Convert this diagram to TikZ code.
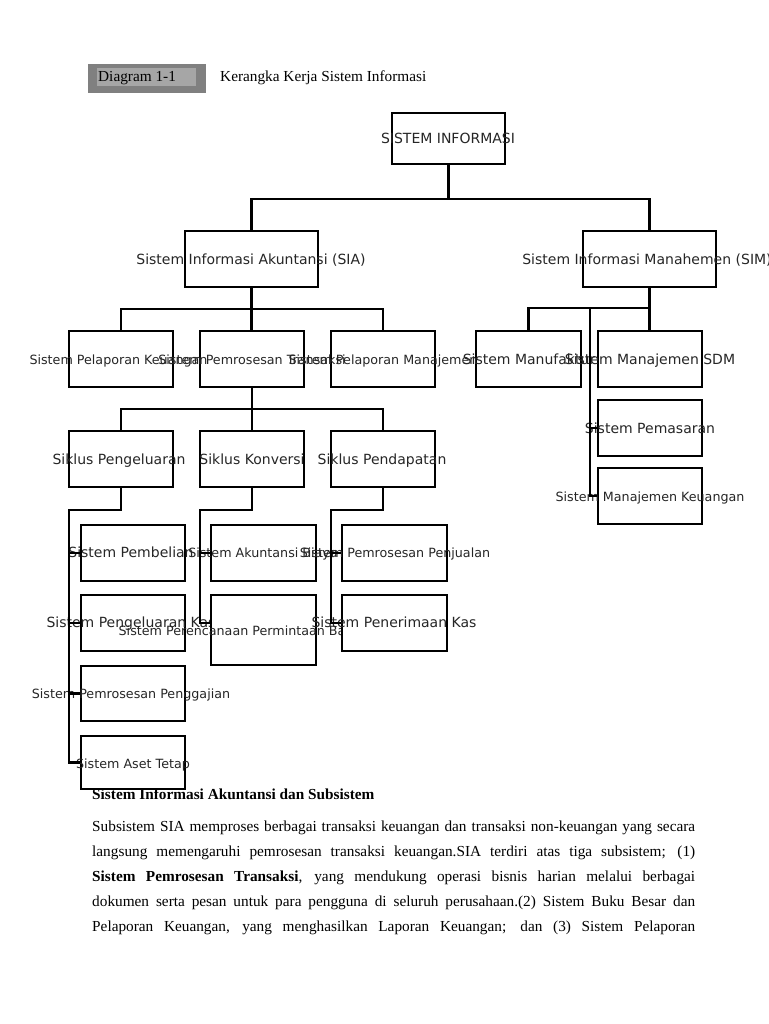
\documentclass[tikz,border=0pt]{standalone}
\usepackage{fontspec}
\setmainfont{Liberation Serif}
\newfontfamily\boxfont{DejaVu Sans}
\usetikzlibrary{calc}
\definecolor{hdrout}{RGB}{128,128,128}
\definecolor{hdrin}{RGB}{166,166,166}
\newcommand\drawbx[5]{\node[box,minimum width={(#4-#2)*1pt},minimum height={(#5-#3)*1pt}] (#1) at ({(#2+#4)/2},{(#3+#5)/2}) {};}
\begin{document}
\begin{tikzpicture}[x=1pt,y=-1pt,
  box/.style={draw,fill=white,line width=1.3pt,inner sep=0pt},
  lblA/.style={font=\boxfont\fontsize{14}{16}\selectfont,inner sep=0pt,text height=10pt,text depth=0pt,text=black!85},
  lblB/.style={font=\boxfont\fontsize{12.7}{15}\selectfont,inner sep=0pt,text height=10pt,text depth=0pt,text=black!85},
  serif/.style={font=\fontsize{15.3}{18}\selectfont,inner sep=0pt,anchor=west,text height=10pt,text depth=0pt},
  conn/.style={line width=2.2pt},
]
\useasboundingbox[fill=white] (0,0) rectangle (768,1024);

% header
\node[fill=hdrout,minimum width=118pt,minimum height=29pt,inner sep=0pt] (hdr) at (147,78.5) {};
\node[fill=hdrin,minimum width=99pt,minimum height=18pt,inner sep=0pt] (hdrinner) at (146.5,77) {};
\node[serif] (hdrtxt) at (98,77) {Diagram 1-1};
\node[serif] (title) at (220,77) {Kerangka Kerja Sistem Informasi};

% level 1
\drawbx{si}{392}{113}{505}{164}
\node[lblA] (l-si) at (448,139) {SISTEM INFORMASI};
\drawbx{sia}{185}{231}{318}{287}
\drawbx{sim}{583}{231}{716}{287}
\node[lblA] (l-sia) at (251,259) {Sistem Informasi Akuntansi (SIA)};
\node[lblA] (l-sim) at (647,259) {Sistem Informasi Manahemen (SIM)};

% level 2
\drawbx{spk}{69}{331}{173}{387}
\drawbx{spt}{200}{331}{304}{387}
\drawbx{spm}{331}{331}{435}{387}
\drawbx{smf}{476}{331}{581}{387}
\drawbx{sdm}{598}{331}{702}{387}
\node[lblB] (l-spk) at (118.5,359) {Sistem Pelaporan Keuangan};
\node[lblB] (l-spt) at (252,359) {Sistem Pemrosesan Transaksi};
\node[lblB] (l-spm) at (383,359) {Sistem Pelaporan Manajemen};
\node[lblA] (l-smf) at (529,359) {Sistem Manufaktur};
\node[lblA] (l-sdm) at (650,359) {Sistem Manajemen SDM};
\drawbx{spms}{598}{400}{702}{456}
\drawbx{smk}{598}{468}{702}{524}
\node[lblA] (l-spms) at (650,428) {Sistem Pemasaran};
\node[lblB] (l-smk) at (650,496) {Sistem Manajemen Keuangan};

% level 3
\drawbx{skl}{69}{431}{173}{487}
\drawbx{skk}{200}{431}{304}{487}
\drawbx{skd}{331}{431}{435}{487}
\node[lblA] (l-skl) at (119,459) {Siklus Pengeluaran};
\node[lblA] (l-skk) at (252,459) {Siklus Konversi};
\node[lblA] (l-skd) at (382,459) {Siklus Pendapatan};

% level 4
\drawbx{pemb}{81}{525}{185}{581}
\drawbx{pkas}{81}{595}{185}{651}
\drawbx{pgaj}{81}{666}{185}{721}
\drawbx{aset}{81}{736}{185}{789}
\node[lblA] (l-pemb) at (131,552) {Sistem Pembelian};
\node[lblA] (l-pkas) at (131,622) {Sistem Pengeluaran Kas};
\node[lblB] (l-pgaj) at (131,693) {Sistem Pemrosesan Penggajian};
\node[lblB] (l-aset) at (133,763) {Sistem Aset Tetap};
\drawbx{biaya}{211}{525}{316}{581}
\drawbx{ppb}{211}{595}{316}{665}
\node[lblB] (l-biaya) at (263,552) {Sistem Akuntansi Biaya};
\node[lblB] (l-ppb) at (244,630) {Sistem Perencanaan Permintaan Bahan};
\drawbx{pjl}{342}{525}{447}{581}
\drawbx{pkas2}{342}{595}{447}{651}
\node[lblB] (l-pjl) at (395,552) {Sistem Pemrosesan Penjualan};
\node[lblA] (l-pkas2) at (394,622) {Sistem Penerimaan Kas};

% connectors
\path (si.south) ++(0,34) coordinate (j1);
\draw[conn] (si.south) -- (j1);
\draw[conn] (sia.north) |- (j1) -| (sim.north);

\path (sia.south) ++(0,21) coordinate (j2);
\draw[conn] (sia.south) -- (sia.south |- spt.north);
\draw[conn] (spk.north) |- (j2) -| (spm.north);

\path (sim.south) ++(0,20) coordinate (j3);
\draw[conn] (sim.south) -- (sim.south |- sdm.north);
\draw[conn] (smf.north) |- (j3);
\coordinate (bm) at (590,307);
\draw[conn] (bm) |- (smk.west);
\draw[conn] (bm |- spms.west) -- (spms.west);

\path (spt.south) ++(0,21) coordinate (j4);
\draw[conn] (spt.south) -- (skk.north);
\draw[conn] (skl.north) |- (j4) -| (skd.north);

\coordinate (bl) at (69,510);
\draw[conn] (skl.south) |- (bl) -- (bl |- aset.west) -- (aset.west);
\draw[conn] (bl |- pemb.west) -- (pemb.west);
\draw[conn] (bl |- pkas.west) -- (pkas.west);
\draw[conn] (bl |- pgaj.west) -- (pgaj.west);

\coordinate (bk) at (200,510);
\draw[conn] (skk.south) |- (bk) -- (bk |- pkas.west) -- (ppb.west |- pkas.west);
\draw[conn] (bk |- biaya.west) -- (biaya.west);

\coordinate (bd) at (331,510);
\draw[conn] (skd.south) |- (bd) -- (bd |- pkas2.west) -- (pkas2.west);
\draw[conn] (bd |- pjl.west) -- (pjl.west);

% body text
\node[serif] (head) at (92,794) {\bfseries Sistem Informasi Akuntansi dan Subsistem};
\node[serif] (p1) at (92,826) {\makebox[603pt][s]{Subsistem SIA memproses berbagai transaksi keuangan dan transaksi non-keuangan yang secara}};
\node[serif] (p2) at (92,851) {\makebox[603pt][s]{langsung memengaruhi pemrosesan transaksi keuangan.SIA terdiri atas tiga subsistem; (1)}};
\node[serif] (p3) at (92,876) {\makebox[603pt][s]{\textbf{Sistem Pemrosesan Transaksi}, yang mendukung operasi bisnis harian melalui berbagai}};
\node[serif] (p4) at (92,901) {\makebox[603pt][s]{dokumen serta pesan untuk para pengguna di seluruh perusahaan.(2) Sistem Buku Besar dan}};
\node[serif] (p5) at (92,926) {\makebox[603pt][s]{Pelaporan Keuangan, yang menghasilkan Laporan Keuangan; dan (3) Sistem Pelaporan}};
\end{tikzpicture}
\end{document}
